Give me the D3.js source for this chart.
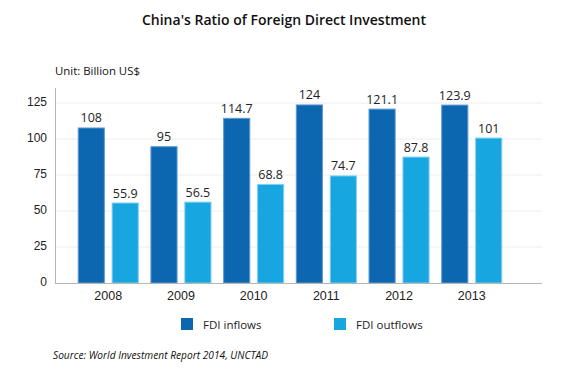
<!DOCTYPE html>
<html>
<head>
<meta charset="utf-8">
<script src="https://cdn.jsdelivr.net/npm/d3@7"></script>
<style>
  body { margin: 0; background: #fff; }
  svg { font-family: "Open Sans", sans-serif; }
  .y-axis text { font-size: 12px; fill: #222; }
  .x-axis text { font-size: 12.5px; fill: #222; }
</style>
</head>
<body>
<div id="wrapper"></div>
<script>
// data
const years = ["2008", "2009", "2010", "2011", "2012", "2013"]
const inflows = [108, 95, 114.7, 124, 121.1, 123.9]
const outflows = [55.9, 56.5, 68.8, 74.7, 87.8, 101]
const seriesNames = ["FDI inflows", "FDI outflows"]
const yTicks = [0, 25, 50, 75, 100, 125]

const colors = ["#0d67b0", "#17a6e0"]
const strokes = ["#5c9bd2", "#7fd0f2"]

const dataset = years.map((y, i) => ({ year: y, values: [inflows[i], outflows[i]] }))

const width = 568
const height = 376

const svg = d3.select("#wrapper")
  .append("svg")
    .attr("width", width)
    .attr("height", height)

// scales
const yScale = d3.scaleLinear()
  .domain([0, 125])
  .range([283, 103])

const xScale = d3.scaleBand()
  .domain(years)
  .range([71.9, 508.1])
  .paddingInner(0.16)
  .paddingOuter(0.08)

const innerScale = d3.scaleBand()
  .domain([0, 1])
  .range([0, xScale.bandwidth()])
  .paddingInner(0.2)

// grid
svg.append("g")
  .selectAll("line")
  .data(yTicks.filter(d => d > 0))
  .enter().append("line")
    .attr("x1", 55)
    .attr("x2", 542)
    .attr("y1", d => yScale(d))
    .attr("y2", d => yScale(d))
    .attr("stroke", "#eeeeee")
    .attr("stroke-width", 1)

// bars
const groups = svg.selectAll(".group")
  .data(dataset)
  .enter().append("g")
    .attr("transform", d => `translate(${xScale(d.year)},0)`)

groups.selectAll("rect")
  .data(d => d.values)
  .enter().append("rect")
    .attr("x", (d, i) => innerScale(i) + 0.5)
    .attr("y", d => yScale(d) + 0.5)
    .attr("width", innerScale.bandwidth() - 1)
    .attr("height", d => yScale(0) - yScale(d) - 0.5)
    .attr("fill", (d, i) => colors[i])
    .attr("stroke", (d, i) => strokes[i])
    .attr("stroke-width", 1)

groups.selectAll(".val")
  .data(d => d.values)
  .enter().append("text")
    .attr("class", "val")
    .attr("x", (d, i) => innerScale(i) + innerScale.bandwidth() / 2)
    .attr("y", d => yScale(d) - 5)
    .attr("text-anchor", "middle")
    .attr("font-size", 12.5)
    .attr("fill", "#222")
    .text(d => d)

// axes
const yAxis = svg.append("g")
    .attr("class", "y-axis")
    .attr("transform", "translate(55,0)")
  .call(d3.axisLeft(yScale).tickValues(yTicks).tickSize(0).tickPadding(8))
yAxis.select(".domain").remove()
yAxis.selectAll("text").attr("dy", "0.2em")

svg.append("line")
    .attr("x1", 55.5).attr("x2", 55.5)
    .attr("y1", 88).attr("y2", 283.5)
    .attr("stroke", "#b5b5b5")

svg.append("line")
    .attr("x1", 55).attr("x2", 542)
    .attr("y1", 283.5).attr("y2", 283.5)
    .attr("stroke", "#b5b5b5")

const xAxis = svg.append("g")
    .attr("class", "x-axis")
    .attr("transform", "translate(0,283)")
  .call(d3.axisBottom(xScale).tickSize(0).tickPadding(8))
xAxis.select(".domain").remove()

// title and labels
svg.append("text")
    .attr("x", 284)
    .attr("y", 25)
    .attr("text-anchor", "middle")
    .attr("font-size", 14)
    .attr("font-weight", 600)
    .attr("fill", "#111")
    .text("China's Ratio of Foreign Direct Investment")

svg.append("text")
    .attr("x", 55)
    .attr("y", 75)
    .attr("font-size", 11.4)
    .attr("fill", "#111")
    .text("Unit: Billion US$")

// legend
const legendX = [181, 334]
const legend = svg.selectAll(".legend")
  .data(seriesNames)
  .enter().append("g")
    .attr("transform", (d, i) => `translate(${legendX[i]},318)`)

legend.append("rect")
    .attr("width", 12)
    .attr("height", 12)
    .attr("fill", (d, i) => colors[i])

legend.append("text")
    .attr("x", 22)
    .attr("y", 10.5)
    .attr("font-size", 11.5)
    .attr("fill", "#222")
    .text(d => d)

svg.append("text")
    .attr("x", 53)
    .attr("y", 359)
    .attr("font-size", 10.2)
    .attr("font-style", "italic")
    .attr("fill", "#111")
    .text("Source: World Investment Report 2014, UNCTAD")
</script>
</body>
</html>
